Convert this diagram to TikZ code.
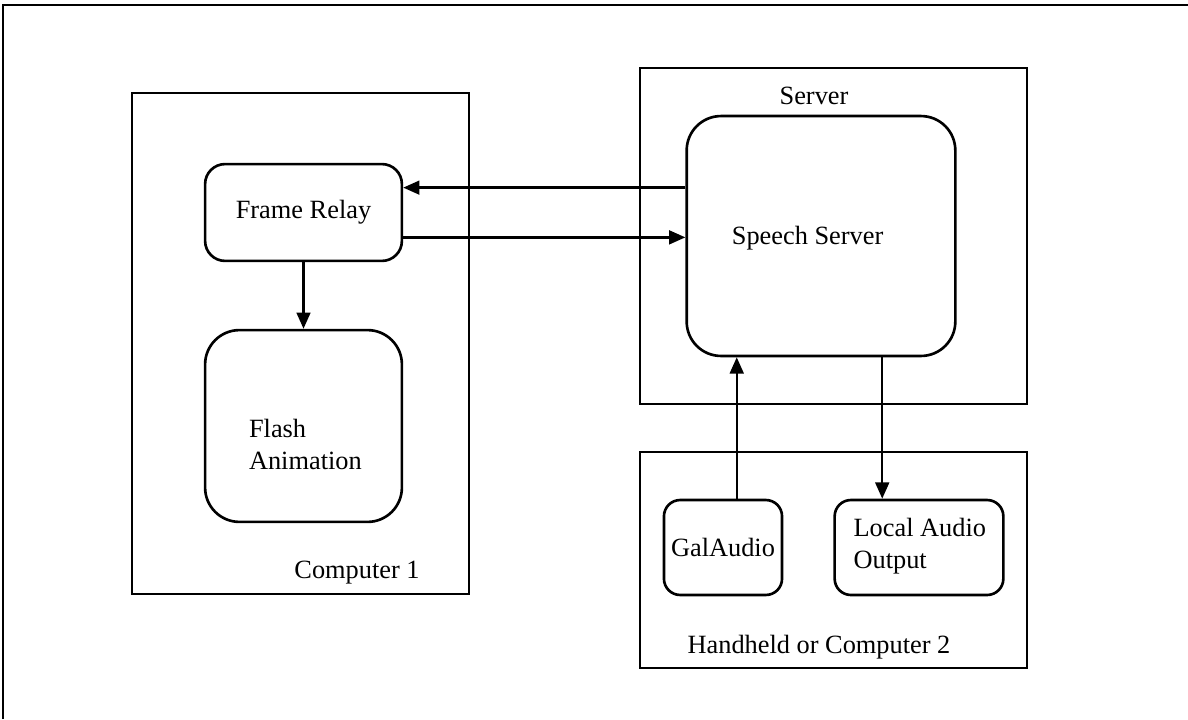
\documentclass[tikz,border=0pt]{standalone}
\usepackage{fontspec}
\setmainfont{Liberation Serif}
\usetikzlibrary{arrows.meta,positioning,calc}

\begin{document}
\begin{tikzpicture}[x=0.016cm,y=-0.016cm,
  font=\fontsize{12}{14.5}\selectfont,
  box/.style={draw,line width=1.2pt,inner sep=0pt},
  rbox/.style={box,rounded corners=#1},
  rbox/.default=0.32cm,
  arr/.style={line width=1.1pt,-{Triangle[length=0.26cm,width=0.22cm]}}]
  % 画布范围
  \useasboundingbox (0,0) rectangle (1188,719);

  % 外框（只剩左边与上边）
  \draw[line width=1.2pt] (3,719) -- (3,5) -- (1188,5);

  % 左侧：Computer 1
  \node[box,minimum width=5.39cm,minimum height=8.02cm] (comp1) at (300.5,343.5) {};
  \node (comp1lbl) at (357,573) {Computer 1};
  \node[rbox,minimum width=3.15cm,minimum height=1.55cm] (relay) at (303.5,212.5) {Frame Relay};
  \node[rbox=0.55cm,minimum width=3.15cm,minimum height=3.07cm] (flash) at (303.5,426) {};
  \node[anchor=west,align=left] (flashtxt) at ([xshift=0.6cm,yshift=-0.3cm]flash.west) {Flash\\Animation};

  % 右上：Server
  \node[box,minimum width=6.19cm,minimum height=5.38cm] (server) at (833.5,236) {};
  \node (serverlbl) at (814,96) {Server};
  \node[rbox=0.55cm,minimum width=4.3cm,minimum height=3.84cm] (speech) at (821,236) {};
  \node[anchor=west] (speechtxt) at ([xshift=0.62cm,yshift=-0.04cm]speech.west) {Speech Server};

  % 右下：Handheld or Computer 2
  \node[box,minimum width=6.19cm,minimum height=3.46cm] (hand) at (833.5,560) {};
  \node (handlbl) at (819,647) {Handheld or Computer 2};
  \node[rbox=0.26cm,minimum width=1.89cm,minimum height=1.52cm] (gal) at (723,547.5) {GalAudio};
  \node[rbox=0.26cm,minimum width=2.7cm,minimum height=1.52cm] (local) at (919,547.5) {};
  \node[anchor=west,align=left] (localtxt) at ([xshift=0.2cm,yshift=0.02cm]local.west) {Local Audio\\Output};

  % 连线
  \coordinate (r1) at ($(relay.north east)!.25!(relay.south east)$);
  \coordinate (r2) at ($(relay.north east)!.75!(relay.south east)$);
  \draw[arr] (r1 -| speech.west) -- (r1);
  \draw[arr] (r2) -- (r2 -| speech.west);
  \draw[arr] (relay) -- (flash);
  \coordinate (g1) at ([xshift=0.22cm]gal.north);
  \draw[arr] (g1) -- (g1 |- speech.south);
  \coordinate (s1) at ([xshift=0.98cm]speech.south);
  \draw[arr] (s1) -- (s1 |- local.north);
\end{tikzpicture}
\end{document}
